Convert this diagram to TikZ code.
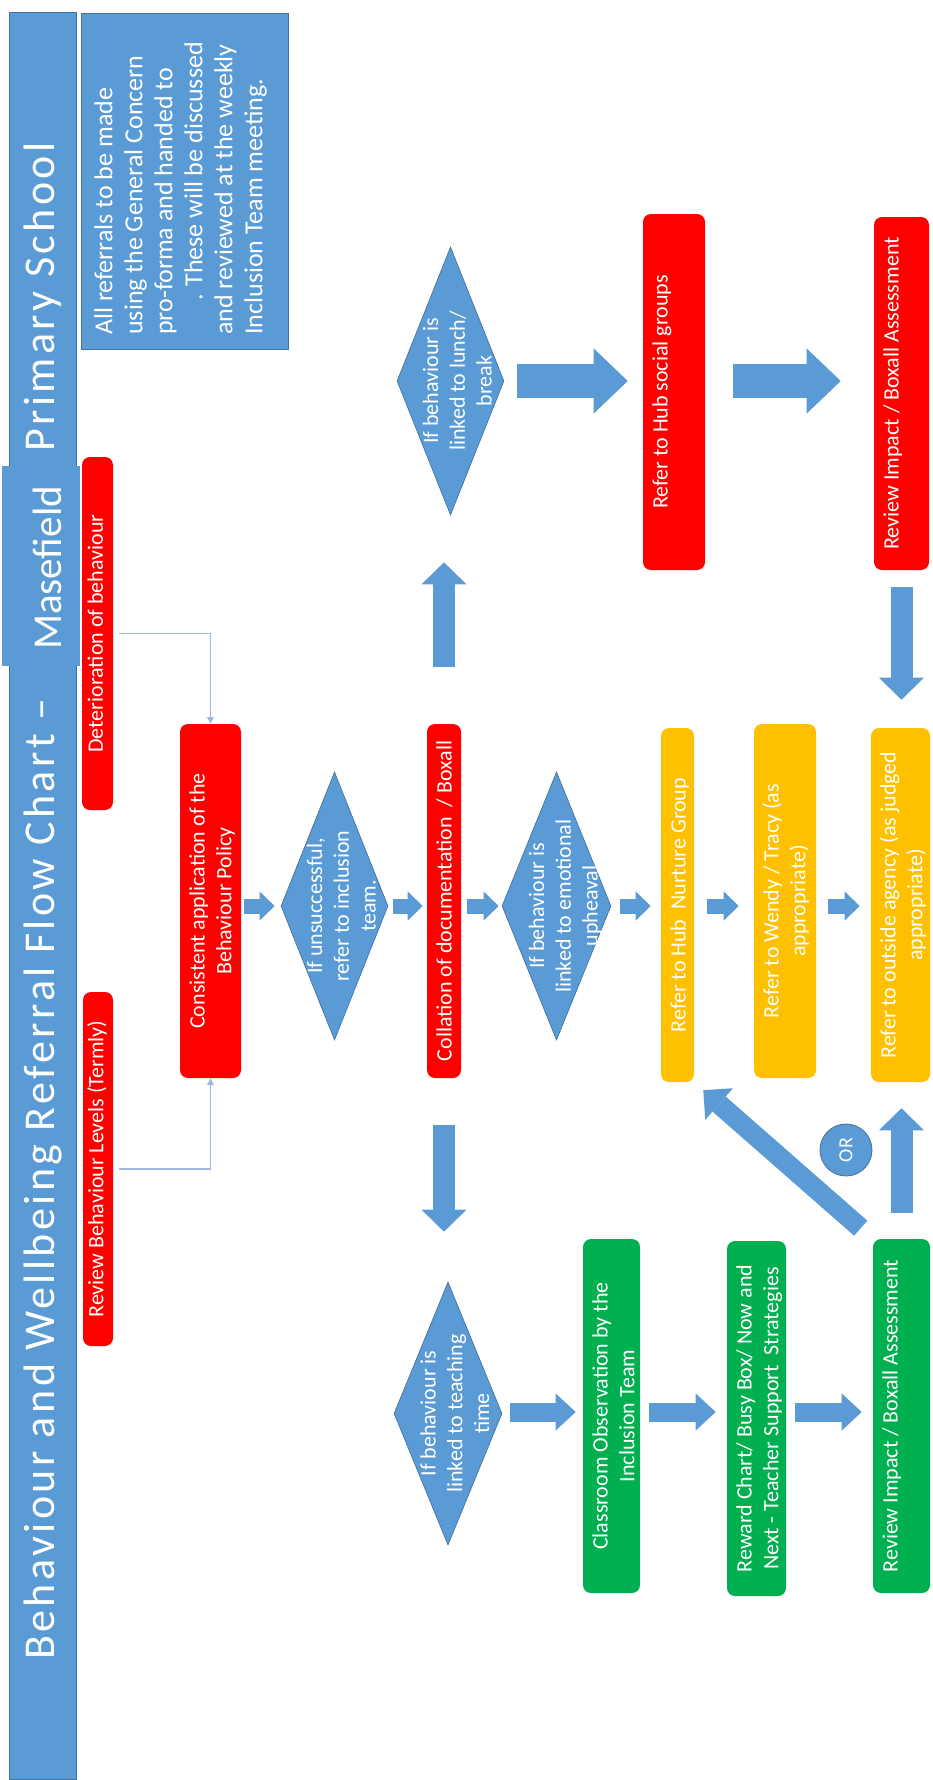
\documentclass[tikz,border=0pt]{standalone}
\usepackage{graphicx}
\usepackage{fontspec}
\setmainfont{Carlito}
\newfontfamily\titlefont{Carlito}[LetterSpace=7.8]
\usetikzlibrary{arrows.meta,shapes.geometric,fit,calc}

\definecolor{flowblue}{HTML}{5B9BD5}
\definecolor{flowedge}{HTML}{41719C}
\definecolor{flowred}{HTML}{FF0000}
\definecolor{flowamber}{HTML}{FFC000}
\definecolor{flowgreen}{HTML}{00B050}
\definecolor{flowlink}{HTML}{9DB9DD}

\newcommand{\rt}[1]{\rotatebox{90}{\begin{tabular}{@{}c@{}}#1\end{tabular}}}
\newcommand{\rtl}[1]{\rotatebox{90}{\begin{tabular}{@{}l@{}}#1\end{tabular}}}

\tikzset{
  panel/.style={rectangle, inner sep=0pt, fill=flowblue, draw=flowedge, line width=0.6pt},
  flowbox/.style={rectangle, rounded corners=6pt, inner sep=0pt, fill=#1},
  decision/.style={diamond, inner sep=0pt, fill=flowblue, draw=flowedge, line width=0.5pt},
  boxtext/.style={inner sep=0pt, text=white, font=\fontsize{16.5}{20}\selectfont},
  bigarrow/.style={draw=flowblue, line width=25.5pt, -{Triangle[length=25.5pt,width=48.75pt,line width=0pt]}},
  tallarrow/.style={draw=flowblue, line width=16.5pt, -{Triangle[length=16.5pt,width=33.75pt,line width=0pt]}},
  diagarrow/.style={draw=flowblue, line width=15pt, -{Triangle[length=15.75pt,width=31.5pt,line width=0pt]}},
  lowarrow/.style={draw=flowblue, line width=14.25pt, -{Triangle[length=15pt,width=27.75pt,line width=0pt]}},
  smallarrow/.style={draw=flowblue, line width=11.25pt, -{Triangle[length=11.25pt,width=21.75pt,line width=0pt]}},
  link/.style={draw=flowlink, line width=1.1pt, -{Triangle[length=5pt,width=5pt]}}
}

\begin{document}
\begin{tikzpicture}[x=0.75pt,y=0.75pt,yscale=-1,xscale=1]
\useasboundingbox (0,0) rectangle (932,1780);

%Shape: Title bar
\node[panel, fit={(9,12) (76,1779)}] (bar) {};
% Text Node
\node[boxtext, anchor=south, font=\titlefont\fontsize{33}{38}\selectfont] (title1) at (44,1660) {\rt{Behaviour and Wellbeing Referral Flow Chart –}};
% Text Node
\node[boxtext, anchor=south, font=\titlefont\fontsize{33}{38}\selectfont] (title2) at (44,452) {\rt{Primary School}};
%Shape: School name patch
\node[panel, draw=none, fit={(2,466) (80,666)}] (mase) {};
\node[boxtext, font=\fontsize{30.75}{37}\selectfont] (mase-t) at (52,568) {\rt{Masefield}};

%Shape: Notes panel
\node[panel, fit={(81,13) (288,349)}] (notes) {};
\node[boxtext, anchor=south west, font=\fontsize{19.5}{22.5}\selectfont] (notes-t) at (91,335) {\rtl{All referrals to be made\\using the General Concern\\pro-forma and handed to\\\hspace*{1.3em}.\hspace{0.3em}These will be discussed\\and reviewed at the weekly\\Inclusion Team meeting.}};

%Shape: Side boxes
\node[flowbox=flowred, fit={(82,457) (113,810)}] (det) {};
\node[boxtext] (det-t) at (det) {\rt{Deterioration of behaviour}};
\node[flowbox=flowred, fit={(83,992) (113,1346)}] (rlev) {};
\node[boxtext] (rlev-t) at (rlev) {\rt{Review Behaviour Levels (Termly)}};

%Shape: Middle row
\node[flowbox=flowred, fit={(180,724) (241,1078)}] (cons) {};
\node[boxtext, anchor=west] (cons-t) at ($(cons.west)+(6,0)$) {\rt{Consistent application of the\\Behaviour Policy}};
\node[decision, minimum width=80.25pt, minimum height=201pt] (unsucc) at (334.5,906) {};
\node[boxtext] (unsucc-t) at ($(unsucc)+(9,0)$) {\rt{If unsuccessful,\\refer to inclusion\\team.}};
\node[flowbox=flowred, fit={(427,724) (461,1078)}] (col) {};
\node[boxtext, anchor=west] (col-t) at ($(col.west)+(6,0)$) {\rt{Collation of documentation\ \ / Boxall}};
\node[decision, minimum width=81.75pt, minimum height=201pt] (emo) at (556.5,906) {};
\node[boxtext] (emo-t) at ($(emo)+(9,0)$) {\rt{If behaviour is\\linked to emotional\\upheaval}};
\node[flowbox=flowamber, fit={(661,728) (694,1082)}] (hubn) {};
\node[boxtext, anchor=west] (hubn-t) at ($(hubn.west)+(6,0)$) {\rt{Refer to Hub\ \ Nurture Group}};
\node[flowbox=flowamber, fit={(754,724) (816,1078)}] (wendy) {};
\node[boxtext, anchor=west] (wendy-t) at ($(wendy.west)+(6,0)$) {\rt{Refer to Wendy / Tracy (as\\appropriate)}};
\node[flowbox=flowamber, fit={(871,728) (930,1082)}] (agency) {};
\node[boxtext, anchor=west] (agency-t) at ($(agency.west)+(6,0)$) {\rt{Refer to outside agency (as judged\\appropriate)}};

%Shape: Lunch branch
\node[decision, minimum width=80.25pt, minimum height=201pt] (lunch) at (450.5,381) {};
\node[boxtext] (lunch-t) at ($(lunch)+(9,0)$) {\rt{If behaviour is\\linked to lunch/\\break}};
\node[flowbox=flowred, fit={(643,214) (705,570)}] (hubs) {};
\node[boxtext, anchor=west] (hubs-t) at ($(hubs.west)+(6,0)$) {\rt{Refer to Hub social groups}};
\node[flowbox=flowred, fit={(874,217) (929,570)}] (rev1) {};
\node[boxtext, anchor=west] (rev1-t) at ($(rev1.west)+(6,0)$) {\rt{Review Impact / Boxall Assessment}};

%Shape: Teaching branch
\node[decision, minimum width=81pt, minimum height=197.25pt] (teach) at (448,1413.5) {};
\node[boxtext] (teach-t) at ($(teach)+(9,0)$) {\rt{If behaviour is\\linked to teaching\\time}};
\node[flowbox=flowgreen, fit={(583,1239) (640,1593)}] (obs) {};
\node[boxtext, anchor=west] (obs-t) at ($(obs.west)+(6,0)$) {\rt{Classroom Observation by the\\Inclusion Team}};
\node[flowbox=flowgreen, fit={(727,1241) (786,1596)}] (reward) {};
\node[boxtext, anchor=west] (reward-t) at ($(reward.west)+(6,0)$) {\rt{Reward Chart/ Busy Box/ Now and\\Next - Teacher Support\ \ Strategies}};
\node[flowbox=flowgreen, fit={(873,1239) (930,1593)}] (rev2) {};
\node[boxtext, anchor=west] (rev2-t) at ($(rev2.west)+(6,0)$) {\rt{Review Impact / Boxall Assessment}};

%Shape: OR badge
\node[circle, fill=flowblue, draw=flowedge, line width=0.6pt, minimum size=39pt, inner sep=0pt, text=white, font=\fontsize{15}{18}\selectfont] (or) at (846,1150) {\rotatebox{90}{OR}};

\coordinate (midrow) at (0,906);
\coordinate (botrow) at (0,1412);

% Thin links into the policy box
\draw[link, shorten <=4.5pt] (det.east) -| (cons.north);
\draw[link, shorten <=4.5pt] (rlev.east) -| (cons.south);

% Middle row arrows
\draw[smallarrow, shorten <=2.25pt, shorten >=4.5pt] (cons.east |- midrow) -- (unsucc.west |- midrow);
\draw[smallarrow, shorten <=3.75pt, shorten >=3pt] (unsucc.east |- midrow) -- (col.west |- midrow);
\draw[smallarrow, shorten <=4.5pt, shorten >=2.25pt] (col.east |- midrow) -- (emo.west |- midrow);
\draw[smallarrow, shorten <=6.75pt, shorten >=7.5pt] (emo.east |- midrow) -- (hubn.west |- midrow);
\draw[smallarrow, shorten <=9.75pt, shorten >=11.25pt] (hubn.east |- midrow) -- (wendy.west |- midrow);
\draw[smallarrow, shorten <=9pt, shorten >=8.25pt] (wendy.east |- midrow) -- (agency.west |- midrow);

% Branch arrows
\draw[tallarrow, shorten <=42.75pt, shorten >=35.25pt] (col.north) -- (col.north |- lunch.south);
\draw[tallarrow, shorten <=35.25pt, shorten >=37.5pt] (col.south) -- (col.south |- teach.north);

% Lunch branch arrows
\draw[bigarrow, shorten <=9.75pt, shorten >=11.25pt] (lunch.east) -- (lunch.east -| hubs.west);
\draw[bigarrow, shorten <=21pt, shorten >=24.75pt] (hubs.east |- lunch.east) -- (rev1.west |- lunch.east);
\draw[tallarrow, shorten <=12.75pt, shorten >=21pt] (rev1.south) -- (rev1.south |- agency.north);

% Teaching branch arrows
\draw[lowarrow, shorten <=6pt, shorten >=5.25pt] (teach.east |- botrow) -- (obs.west |- botrow);
\draw[lowarrow, shorten <=6.75pt, shorten >=8.25pt] (obs.east |- botrow) -- (reward.west |- botrow);
\draw[lowarrow, shorten <=6.75pt, shorten >=8.25pt] (reward.east |- botrow) -- (rev2.west |- botrow);
\draw[tallarrow, shorten <=19.5pt, shorten >=19.5pt] (rev2.north) -- (rev2.north |- agency.south);
\draw[diagarrow, shorten <=12pt, shorten >=9pt] (rev2.north west) -- (hubn.south east);

\end{tikzpicture}
\end{document}
